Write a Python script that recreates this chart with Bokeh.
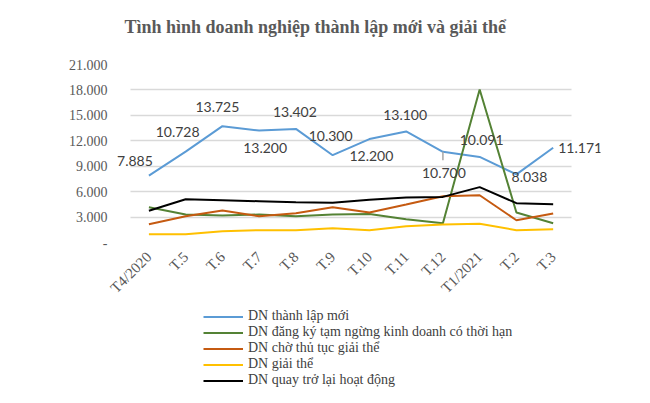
from bokeh.plotting import figure
from bokeh.layouts import column
from bokeh.models import (Range1d, FixedTicker, CustomJSTickFormatter, Grid, Title,
                          Legend, LegendItem, ColumnDataSource)
from bokeh.core.properties import value
from bokeh.embed import file_html
from bokeh.resources import INLINE
import math

months = ["T4/2020", "T.5", "T.6", "T.7", "T.8", "T.9", "T.10", "T.11", "T.12",
          "T1/2021", "T.2", "T.3"]
thanh_lap_moi = [7885, 10728, 13725, 13200, 13402, 10300, 12200, 13100, 10700, 10091, 8038, 11171]
tam_ngung = [4170, 3300, 3200, 3300, 3100, 3300, 3350, 2750, 2280, 18050, 3540, 2280]
cho_giai_the = [2160, 3100, 3780, 3100, 3460, 4170, 3540, 4480, 5460, 5580, 2630, 3420]
giai_the = [980, 980, 1330, 1450, 1450, 1690, 1450, 1920, 2120, 2200, 1450, 1570]
quay_tro_lai = [3740, 5110, 4990, 4870, 4750, 4680, 5050, 5310, 5380, 6530, 4640, 4520]
y_ticks = [0, 3000, 6000, 9000, 12000, 15000, 18000, 21000]

chart_title = "Tình hình doanh nghiệp thành lập mới và giải thể"
series_names = ["DN thành lập mới",
                "DN đăng ký tạm ngừng kinh doanh có thời hạn",
                "DN chờ thủ tục giải thể",
                "DN giải thể",
                "DN quay trở lại hoạt động"]
colors = ["#5B9BD5", "#548235", "#C55A11", "#FFC000", "#000000"]

# data label placement (screen px offsets) for the first series
lbl_dx = [-14, -8, -5, 6, -1, -2, 2, -1, 1, 2, 13, 27]
lbl_dy = [-15, -20, -19, 17, -17, -19, 17, -16, 21, -17, 3, 0]

xs = list(range(len(months)))
all_series = [thanh_lap_moi, tam_ngung, cho_giai_the, giai_the, quay_tro_lai]

p = figure(width=650, height=305, output_backend="svg", toolbar_location=None,
           x_range=Range1d(-1.045, 12.288), y_range=Range1d(0, 21000),
           min_border_left=110, min_border_right=50, min_border_top=64, min_border_bottom=63)
p.outline_line_color = None
p.background_fill_color = "white"

# spacer between plot area and title, then the title itself (outer)
p.add_layout(Title(text=" ", text_font_size="1px", standoff=20), "above")
p.add_layout(Title(text=chart_title, text_font="Liberation Serif", text_font_size="18px",
                   text_font_style="bold", text_color="#595959", align="left",
                   offset=14, standoff=10), "above")

p.xgrid.grid_line_color = None
if "cross_bounds" in Grid.properties():
    p.ygrid.grid_line_color = "#D9D9D9"
    p.ygrid.grid_line_width = 1.5
    p.ygrid.cross_bounds = (-0.5, len(months) - 0.5)
else:
    p.ygrid.grid_line_color = None
    p.segment(x0=[-0.5] * len(y_ticks), x1=[len(months) - 0.5] * len(y_ticks),
              y0=y_ticks, y1=y_ticks, line_color="#D9D9D9", line_width=1.5, level="underlay")

p.yaxis.ticker = FixedTicker(ticks=y_ticks)
p.yaxis.formatter = CustomJSTickFormatter(code="return tick == 0 ? '-' : (tick/1000).toFixed(3);")
p.xaxis.ticker = FixedTicker(ticks=xs)
p.xaxis.major_label_overrides = {i: m for i, m in enumerate(months)}
for ax in (p.xaxis, p.yaxis):
    ax.axis_line_color = None
    ax.major_tick_line_color = None
    ax.minor_tick_line_color = None
    ax.major_tick_out = 0
    ax.major_tick_in = 0
    ax.minor_tick_out = 0
    ax.major_label_text_font = "Liberation Serif"
    ax.major_label_text_color = "#595959"
p.yaxis.major_label_text_font_size = "14px"
p.xaxis.major_label_text_font_size = "15px"
p.yaxis.major_label_standoff = 3
p.xaxis.major_label_orientation = math.pi / 4
p.xaxis.major_label_standoff = 12

for vals, c in zip(all_series, colors):
    p.line(xs, vals, line_color=c, line_width=2)

# leader line for the T.12 label
p.segment(x0=[xs[8]], y0=[thanh_lap_moi[8]], x1=[xs[8]], y1=[thanh_lap_moi[8] - 1000],
          line_color="#A6A6A6", line_width=1.5)

src = ColumnDataSource(dict(x=xs, y=thanh_lap_moi,
                            t=[f"{v:,}".replace(",", ".") for v in thanh_lap_moi],
                            dx=lbl_dx, dy=lbl_dy))
p.text(x="x", y="y", text="t", x_offset="dx", y_offset="dy", source=src,
       text_font=value("Lato"), text_font_size="14px", text_color="#404040",
       text_align="center", text_baseline="middle")

# legend panel below the chart (series drawn out of view, only their legend shows)
lg = figure(width=650, height=98, output_backend="svg", toolbar_location=None,
            x_range=Range1d(-1.045, 12.288), y_range=Range1d(-2, -1),
            min_border_left=110, min_border_right=50, min_border_top=0, min_border_bottom=0)
lg.axis.visible = False
lg.grid.visible = False
lg.outline_line_color = None
items = []
for name, vals, c in zip(series_names, all_series, colors):
    r = lg.line(xs, vals, line_color=c, line_width=2)
    items.append(LegendItem(label=name, renderers=[r]))
legend = Legend(items=items, location=(93, 15), orientation="vertical")
legend.label_text_font = "Liberation Serif"
legend.label_text_font_size = "14px"
legend.label_text_color = "#404040"
legend.glyph_width = 40
legend.glyph_height = 15
legend.label_height = 15
legend.spacing = 0
legend.padding = 0
legend.margin = 0
legend.label_standoff = 5
legend.border_line_color = None
legend.background_fill_alpha = 0
lg.add_layout(legend, "center")

open("out.html", "w").write(file_html(column(p, lg, spacing=0), INLINE))
